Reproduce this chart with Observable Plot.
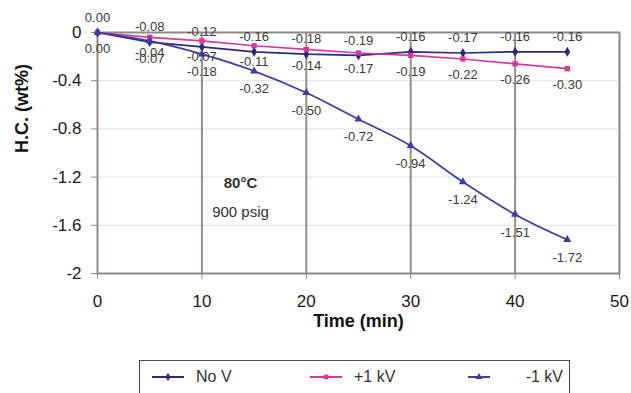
<!DOCTYPE html>
<html>
<head>
<meta charset="utf-8">
<script src="https://cdn.jsdelivr.net/npm/d3@7"></script>
<script src="https://cdn.jsdelivr.net/npm/@observablehq/plot@0.6"></script>
<style>
  body { margin: 0; background: #fff; font-family: "Liberation Sans", Arial, sans-serif; }
  #wrap { position: relative; width: 631px; height: 393px; overflow: hidden; }
  #legend { position: absolute; left: 139px; top: 360px; width: 431px; height: 44px;
            border: 1.5px solid #4a4a4a; box-sizing: border-box; }
  .item { position: absolute; top: 7px; display: flex; align-items: center; font-size: 16px; color: #333; }
  .item svg { margin-right: 12px; }
</style>
</head>
<body>
<div id="wrap"><div id="chart"></div><div id="legend"></div></div>
<script>
// ---- data ----
const times = [0, 5, 10, 15, 20, 25, 30, 35, 40, 45];
const noV   = [0.00, -0.08, -0.12, -0.16, -0.18, -0.19, -0.16, -0.17, -0.16, -0.16];
const plus1 = [0.00, -0.04, -0.07, -0.11, -0.14, -0.17, -0.19, -0.22, -0.26, -0.30];
const minus1 = [0.00, -0.07, -0.18, -0.32, -0.50, -0.72, -0.94, -1.24, -1.51, -1.72];
const seriesNames = ["No V", "+1 kV", "-1 kV"];
const seriesColors = ["#2a2a7e", "#d8389a", "#3b3bab"];
const seriesSymbols = ["diamond", "square", "triangle"];
const xTicks = [0, 10, 20, 30, 40, 50];
const yTicks = [0, -0.4, -0.8, -1.2, -1.6, -2];
const xGrid = [10, 20, 30, 40];
const yGrid = [-0.4, -0.8, -1.2, -1.6];
const noteTemp = [{t: 13.7, v: -1.25, text: "80°C"}];
const notePress = [{t: 13.7, v: -1.49, text: "900 psig"}];

const rows = [];
[noV, plus1, minus1].forEach((arr, si) => {
  arr.forEach((v, i) => rows.push({series: seriesNames[si], t: times[i], v}));
});
const fmt = v => v.toFixed(2);
const bySeries = s => rows.filter(d => d.series === s);

const chart = Plot.plot({
  width: 631,
  height: 350,
  marginLeft: 97,
  marginRight: 12,
  marginTop: 32,
  marginBottom: 77,
  style: {fontFamily: "Liberation Sans, Arial, sans-serif", background: "#fff"},
  x: {domain: [0, 50]},
  y: {domain: [-2, 0]},
  color: {domain: seriesNames, range: seriesColors},
  symbol: {domain: seriesNames, range: seriesSymbols},
  marks: [
    Plot.ruleY(yGrid, {stroke: "#e2e8ef", strokeWidth: 1.2}),
    Plot.ruleX(xGrid, {stroke: "#958f88", strokeWidth: 2}),
    Plot.frame({stroke: "#8f8983", strokeWidth: 2}),
    Plot.axisX({ticks: xTicks, tickSize: 6, tickPadding: 15, fontSize: 17, label: null, stroke: "#8f8983", color: "#1a1a1a"}),
    Plot.axisY({ticks: yTicks, tickSize: 6, tickPadding: 10, fontSize: 17, label: null, tickFormat: d => String(d), stroke: "#8f8983", color: "#1a1a1a"}),
    Plot.line(bySeries("No V"), {x: "t", y: "v", stroke: "series", strokeWidth: 1.7}),
    Plot.line(bySeries("+1 kV"), {x: "t", y: "v", stroke: "series", strokeWidth: 1.7}),
    Plot.line(bySeries("-1 kV"), {x: "t", y: "v", stroke: "series", strokeWidth: 1.7, curve: "catmull-rom"}),
    Plot.dot(rows, {x: "t", y: "v", fill: "series", symbol: "series", r: 3, stroke: "none"}),
    Plot.text(bySeries("No V"), {x: "t", y: "v", text: d => fmt(d.v), dy: -15, fontSize: 13, fill: "#3a3a3a"}),
    Plot.text(bySeries("+1 kV"), {x: "t", y: "v", text: d => fmt(d.v), dy: 16, fontSize: 13, fill: "#3a3a3a"}),
    Plot.text(bySeries("-1 kV").filter(d => d.t > 0), {x: "t", y: "v", text: d => fmt(d.v), dy: 18, fontSize: 13, fill: "#3a3a3a"}),
    Plot.text(noteTemp, {x: "t", y: "v", text: "text", fontSize: 15, fontWeight: "bold", fill: "#333"}),
    Plot.text(notePress, {x: "t", y: "v", text: "text", fontSize: 15, fill: "#333"}),
    Plot.text(["H.C. (wt%)"], {frameAnchor: "left", dx: -75, rotate: -90, fontSize: 18, fontWeight: "bold", fill: "#111"}),
    Plot.text(["Time (min)"], {frameAnchor: "bottom", dy: 53, fontSize: 18, fontWeight: "bold", fill: "#111"})
  ]
});
document.getElementById("chart").append(chart);

// ---- legend ----
const legend = document.getElementById("legend");
const positions = [12, 170, 330];
seriesNames.forEach((name, i) => {
  const item = document.createElement("div");
  item.className = "item";
  item.style.left = positions[i] + "px";
  if (i === 2) { item.style.left = "auto"; item.style.right = "6px"; }
  const sym = d3.symbol(i === 0 ? d3.symbolDiamond : i === 1 ? d3.symbolSquare : d3.symbolTriangle, 22)();
  const svgW = i === 2 ? 22 : 32;
  item.innerHTML = `<svg width="${svgW}" height="12"><line x1="0" x2="${svgW}" y1="6" y2="6" stroke="${seriesColors[i]}" stroke-width="2"/><path d="${sym}" transform="translate(${svgW/2},6)" fill="${seriesColors[i]}"/></svg><span>${name}</span>`;
  if (i === 2) item.querySelector("svg").style.marginRight = "36px";
  legend.append(item);
});
</script>
</body>
</html>
